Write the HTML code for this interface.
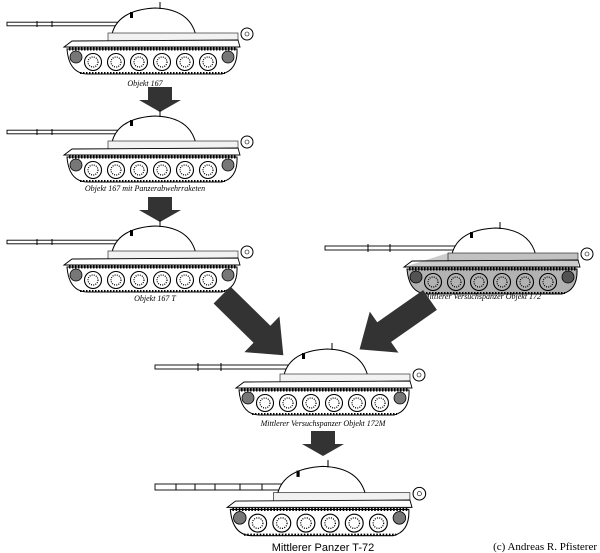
<!DOCTYPE html>
<html><head><style>
html,body{margin:0;padding:0;background:#fff;width:600px;height:553px;overflow:hidden}
text{font-family:"Liberation Serif",serif;font-style:italic;font-size:8px;fill:#000}
</style></head><body>
<svg width="600" height="553" viewBox="0 0 600 553" xmlns="http://www.w3.org/2000/svg">
<defs>
<g id="tank">
  <path d="M112,34 Q118,10 155,8 Q190,9 196,36 Z" fill="#fff" stroke="#000" stroke-width="1"/>
  <rect x="130" y="12" width="3" height="6" fill="#000"/>
  <line x1="160" y1="2" x2="160" y2="9" stroke="#000"/>
  <rect x="108" y="33" width="130" height="8" fill="#f2f2f2" stroke="#333" stroke-width="0.7"/>
  <path d="M64,47 L72,41 L238,40 L240,47 Z" fill="#fff" stroke="#000" stroke-width="0.9"/>
  <path d="M67,49 Q69,74 88,74 L222,74 Q238,70 237,49 Z" fill="#fff" stroke="#000" stroke-width="1"/>
  <line x1="69" y1="49" x2="237" y2="49" stroke="#000" stroke-width="3" stroke-dasharray="1.5 1.5"/>
  <line x1="80" y1="73" x2="225" y2="73" stroke="#000" stroke-width="2" stroke-dasharray="1.5 1.5"/>
  <g fill="#fff" stroke="#000" stroke-width="1.1">
    <circle cx="93" cy="62" r="8.5"/><circle cx="116" cy="62" r="8.5"/><circle cx="139" cy="62" r="8.5"/>
    <circle cx="162" cy="62" r="8.5"/><circle cx="185" cy="62" r="8.5"/><circle cx="208" cy="62" r="8.5"/>
  </g>
  <g fill="#777" stroke="#000" stroke-width="0.8">
    <circle cx="76" cy="57" r="6"/><circle cx="228" cy="57" r="6"/>
  </g>
  <g fill="none" stroke="#000" stroke-width="1.2" stroke-dasharray="1 1.2">
    <circle cx="93" cy="62" r="5"/><circle cx="116" cy="62" r="5"/><circle cx="139" cy="62" r="5"/>
    <circle cx="162" cy="62" r="5"/><circle cx="185" cy="62" r="5"/><circle cx="208" cy="62" r="5"/>
  </g>
  <circle cx="247" cy="34" r="6" fill="#fff" stroke="#000"/>
  <circle cx="247" cy="34" r="2" fill="none" stroke="#000" stroke-width="0.6"/>
</g>
<g id="sarrow"><path d="M-12,0 H12 V13 H21 L0,25 L-21,13 H-12 Z" fill="#333"/></g>
<g id="barrel"><rect x="0" y="-1.8" width="1" height="3.6" fill="#fff" stroke="#000" stroke-width="0.8"/></g>
</defs>

<!-- tank 1 -->
<rect x="7" y="22.2" width="111" height="3.6" fill="#fff" stroke="#000" stroke-width="0.9"/>
<line x1="37" y1="21" x2="37" y2="27" stroke="#000"/><line x1="52" y1="21" x2="52" y2="27" stroke="#000"/>
<use href="#tank"/>
<text x="145" y="86" text-anchor="middle">Objekt 167</text>
<use href="#sarrow" x="160" y="87"/>

<!-- tank 2 -->
<rect x="7" y="130.2" width="111" height="3.6" fill="#fff" stroke="#000" stroke-width="0.9"/>
<line x1="37" y1="129" x2="37" y2="135" stroke="#000"/><line x1="52" y1="129" x2="52" y2="135" stroke="#000"/>
<use href="#tank" transform="translate(0,108)"/>
<text x="145" y="191" text-anchor="middle">Objekt 167 mit Panzerabwehrraketen</text>
<use href="#sarrow" x="160" y="197"/>

<!-- tank 3 -->
<rect x="7" y="240.2" width="111" height="3.6" fill="#fff" stroke="#000" stroke-width="0.9"/>
<line x1="37" y1="239" x2="37" y2="245" stroke="#000"/><line x1="52" y1="239" x2="52" y2="245" stroke="#000"/>
<use href="#tank" transform="translate(0,218)"/>
<text x="155" y="301" text-anchor="middle">Objekt 167 T</text>

<!-- tank 4 -->
<rect x="325" y="246" width="138" height="4" fill="#fff" stroke="#000" stroke-width="0.9"/>
<line x1="368" y1="244" x2="368" y2="252" stroke="#000"/><line x1="390" y1="244" x2="390" y2="252" stroke="#000"/>
<g transform="translate(340,220)">
  <use href="#tank"/>
  <path d="M67,49 Q69,74 88,74 L222,74 Q238,70 237,49 Z" fill="#000" opacity="0.3"/>
  <path d="M108,33 H238 V47 H64 Z" fill="#000" opacity="0.2"/>
</g>
<text x="482" y="299" text-anchor="middle">Mittlerer Versuchspanzer Objekt 172</text>

<!-- big arrows -->
<path d="M0,-12 H56 V-25 L86,0 L56,25 V12 H0 Z" fill="#333" transform="translate(222,295) rotate(44.5)"/>
<path d="M0,-12 H56 V-25 L86,0 L56,25 V12 H0 Z" fill="#333" transform="translate(430,300) rotate(145)"/>

<!-- tank 5 -->
<rect x="155" y="365" width="138" height="4" fill="#fff" stroke="#000" stroke-width="0.9"/>
<line x1="198" y1="363" x2="198" y2="371" stroke="#000"/><line x1="221" y1="363" x2="221" y2="371" stroke="#000"/>
<use href="#tank" transform="translate(172,341)"/>
<text x="323" y="426" text-anchor="middle">Mittlerer Versuchspanzer Objekt 172M</text>
<use href="#sarrow" x="323" y="431"/>

<!-- tank 6 -->
<rect x="155" y="484" width="135" height="6" fill="#fff" stroke="#000" stroke-width="0.9"/>
<line x1="176" y1="484" x2="176" y2="490" stroke="#000"/><line x1="195" y1="484" x2="195" y2="490" stroke="#000"/>
<line x1="215" y1="484" x2="215" y2="490" stroke="#000"/><line x1="240" y1="484" x2="240" y2="490" stroke="#000"/>
<line x1="262" y1="484" x2="262" y2="490" stroke="#000"/>
<use href="#tank" transform="translate(160,458) scale(1.05)"/>
<text x="323" y="551" text-anchor="middle" style="font-family:'Liberation Sans',sans-serif;font-style:normal;font-size:11px">Mittlerer Panzer T-72</text>
<text x="597" y="550" text-anchor="end" style="font-style:normal;font-size:11px">(c) Andreas R. Pfisterer</text>
</svg>
</body></html>
